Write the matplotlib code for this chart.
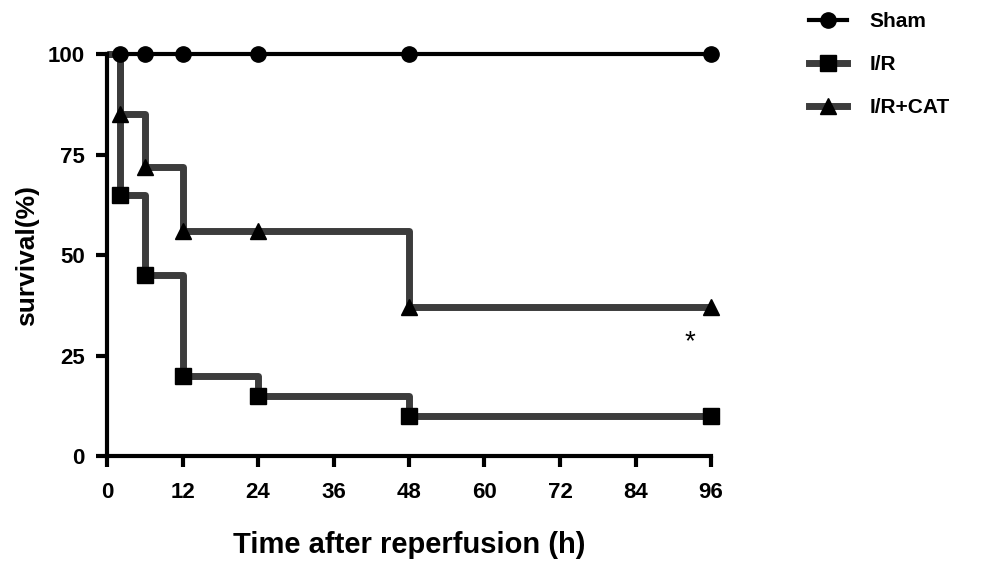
import matplotlib
matplotlib.use("Agg")
import matplotlib.pyplot as plt

plt.rcParams['font.family'] = ['Liberation Sans', 'DejaVu Sans']
plt.rcParams['font.weight'] = 'bold'

times = [0, 2, 6, 12, 24, 48, 96]
sham = [100, 100, 100, 100, 100, 100, 100]
ir = [100, 65, 45, 20, 15, 10, 10]
ir_cat = [100, 85, 72, 56, 56, 37, 37]
labels = ["Sham", "I/R", "I/R+CAT"]
xticks = [0, 12, 24, 36, 48, 60, 72, 84, 96]
yticks = [0, 25, 50, 75, 100]

fig = plt.figure(figsize=(10, 5.7), dpi=100)
ax = fig.add_axes([0.107, 0.2, 0.604, 0.705])

series = [
    (sham, 'o', 'black', 3.0, 11),
    (ir, 's', '#3c3c3c', 5.0, 11),
    (ir_cat, '^', '#3c3c3c', 5.0, 12),
]
handles = []
for (vals, mk, col, lw, ms), lab in zip(series, labels):
    ax.plot(times, vals, drawstyle='steps-post', color=col, lw=lw, zorder=2,
            solid_capstyle='butt')
    ax.plot(times[1:], vals[1:], linestyle='none', marker=mk, color='black',
            markersize=ms, zorder=3)
    h, = ax.plot([], [], color=col, lw=lw, marker=mk, markerfacecolor='black',
                 markeredgecolor='black', markersize=ms)
    handles.append(h)

ax.text(92.7, 28.4, '*', fontsize=20, fontweight='normal', ha='center', va='center')

ax.set_xlim(0, 96)
ax.set_ylim(0, 100)
ax.set_xticks(xticks)
ax.set_yticks(yticks)
ax.set_xticklabels([str(t) for t in xticks], fontsize=16, fontweight='bold')
ax.set_yticklabels([str(t) for t in yticks], fontsize=16, fontweight='bold')
for s in ['top', 'right']:
    ax.spines[s].set_visible(False)
for s in ['left', 'bottom']:
    ax.spines[s].set_linewidth(3)
ax.tick_params(axis='both', direction='out', length=8, width=3)
ax.tick_params(axis='x', pad=11)
ax.tick_params(axis='y', pad=8)
for l in ax.lines:
    l.set_clip_on(False)

ax.set_xlabel('Time after reperfusion (h)', fontsize=21, fontweight='bold',
              labelpad=20)
ax.set_ylabel('survival(%)', fontsize=19, fontweight='bold', labelpad=6)

fig.legend(handles, labels, loc='upper left', bbox_to_anchor=(0.79, 1.012),
           frameon=False, handlelength=1.85, labelspacing=1.15,
           handletextpad=1.05, prop={'weight': 'bold', 'size': 15})

fig.savefig('out.png', dpi=100)
